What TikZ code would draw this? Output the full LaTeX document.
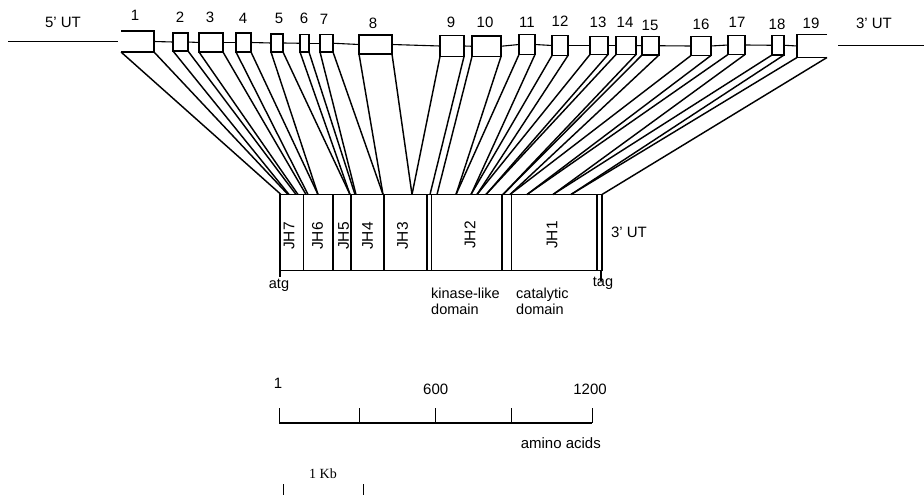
\documentclass[tikz,border=0pt]{standalone}
\usepackage{fontspec}
\setmainfont{Liberation Sans}
\newfontfamily\serifface{Liberation Serif}
\begin{document}
\begin{tikzpicture}[x=1pt,y=-1pt,
  exonbox/.style={draw,line width=1.2pt,fill=white},
  genel/.style={line width=1.1pt},
  link/.style={line width=1.45pt},
  boxl/.style={line width=1.1pt},
  numlbl/.style={font=\fontsize{15}{17}\selectfont,inner sep=0pt},
  txt/.style={font=\fontsize{14.5}{16}\selectfont,inner sep=0pt},
  bigtxt/.style={font=\fontsize{15}{17}\selectfont,inner sep=0pt},
  jh/.style={font=\fontsize{15.5}{17}\selectfont,inner sep=0pt,rotate=90}]
\useasboundingbox (0,0) rectangle (924,495);
% exons: n / left / right / top / bottom / label x / label y
\foreach \n/\l/\r/\t/\b/\lx/\ly in {
  1/121/154/31/52/135/15,
  2/173/188/33/51/180/17,
  3/199/223/33/52/210/17,
  4/236/251/33/52/243/18,
  5/271/283/34/52/279/18,
  6/300/309/34.5/52/304/18,
  7/320/333/34.5/52/324/19,
  8/359/392/35/54/373/23,
  9/440/464/35.5/56.5/451/22,
  10/472/501/36/56.5/485/22,
  11/519/535/34.5/54.5/527/22,
  12/552/568/35.5/55.5/560/21,
  13/590/608/36.5/54.5/598/22,
  14/616/636/36.5/54.5/625/22,
  15/642/659/36.5/55/650/25,
  16/691/711/36.5/55.5/701/24,
  17/728/745/35.5/54.5/737/22,
  18/772/784/35.5/55/777/24,
  19/797/827/34.5/57.5/811/23}{
  \coordinate (e\n tl) at (\l,\t);
  \coordinate (e\n tr) at (\r,\t);
  \coordinate (e\n bl) at (\l,\b);
  \coordinate (e\n br) at (\r,\b);
  \coordinate (e\n ml) at (\l,{(\t+\b)/2});
  \coordinate (e\n mr) at (\r,{(\t+\b)/2});
  \node[numlbl] (n\n) at (\lx,\ly) {\n};
}
% gene line
\coordinate (u5a) at (8,41.7);
\coordinate (u5b) at (118,41.7);
\coordinate (u3a) at (838,45.7);
\coordinate (u3b) at (924,45.7);
\draw[genel] (u5a) -- (u5b);
\draw[genel] (u3a) -- (u3b);
\foreach \a/\b in {1/2,2/3,3/4,4/5,5/6,6/7,7/8,8/9,9/10,10/11,11/12,12/13,13/14,14/15,15/16,16/17,17/18,18/19}{
  \draw[genel] (e\a mr) -- (e\b ml);
}
\foreach \n in {2,...,18}{
  \draw[exonbox] (e\n tl) rectangle (e\n br);
}
\draw[exonbox,fill=none] (e1tl) -- (e1tr) -- (e1br) -- (e1bl);
\draw[exonbox,fill=none] (e19tr) -- (e19tl) -- (e19bl) -- (e19br);
\node[bigtxt] (utr5) at (63,22) {5' UT};
\node[bigtxt] (utr3) at (874,23) {3' UT};
% protein targets
\foreach \n/\pl/\pr in {
  1/281/288, 2/289/296, 3/298/306, 4/308/318, 5/318/350,
  6/350/355, 7/356/383, 8/383/412, 9/412/430, 10/437/456,
  11/456/471, 12/471/477, 13/477/486, 14/486/503, 15/503/510,
  16/510/527, 17/527/553, 18/553/571, 19/571/602}{
  \coordinate (p\n l) at (\pl,194.5);
  \coordinate (p\n r) at (\pr,194.5);
  \draw[link] (e\n bl) -- (p\n l);
  \draw[link] (e\n br) -- (p\n r);
}
% protein box
\coordinate (bxa) at (280,194.5);
\coordinate (bxb) at (602,270.5);
\draw[boxl] (bxa) rectangle (bxb);
\foreach \x in {303.3,351,384,427,431.5,502,511.5,597}{
  \draw[boxl] (\x,194.5) -- (\x,270.5);
}
\draw[line width=2.4pt] (333,194.5) -- (333,270.5);
\node[jh] (jh7) at (289,236) {JH7};
\node[jh] (jh6) at (317.5,236) {JH6};
\node[jh] (jh5) at (343.5,236) {JH5};
\node[jh] (jh4) at (367.5,236) {JH4};
\node[jh] (jh3) at (402.5,236) {JH3};
\node[jh] (jh2) at (470,235) {JH2};
\node[jh] (jh1) at (552,235) {JH1};
\node[bigtxt] (utr3b) at (629,232) {3' UT};
% atg / tag
\coordinate (atga) at (280,270.5);
\coordinate (atgb) at (280,277);
\draw[boxl] (atga) -- (atgb);
\coordinate (taga) at (601,270.5);
\coordinate (tagb) at (601,281);
\draw[boxl] (taga) -- (tagb);
\node[txt,anchor=base] (atg) at (279,288) {atg};
\node[txt,anchor=base] (tag) at (603,286) {tag};
\node[txt,anchor=base west] (kin1) at (431,298) {kinase-like};
\node[txt,anchor=base west] (kin2) at (431,314) {domain};
\node[txt,anchor=base west] (cat1) at (516,298) {catalytic};
\node[txt,anchor=base west] (cat2) at (516,314) {domain};
% amino acid scale
\coordinate (s0) at (279.3,423);
\coordinate (s4) at (592.3,423);
\draw[boxl] (s0) -- (s4);
\foreach \x in {279.3,359.3,435.7,511.7,592.3}{
  \draw[boxl] (\x,408) -- (\x,423);
}
\node[bigtxt] (a1) at (278,383) {1};
\node[bigtxt] (a600) at (435.7,389) {600};
\node[bigtxt] (a1200) at (590,389) {1200};
\node[bigtxt,anchor=east] (aa) at (601,443) {amino acids};
% 1 Kb
\coordinate (k0a) at (283.5,484);
\coordinate (k0b) at (283.5,495);
\coordinate (k1a) at (363.5,484);
\coordinate (k1b) at (363.5,495);
\draw[boxl] (k0a) -- (k0b);
\draw[boxl] (k1a) -- (k1b);
\node[font=\serifface\fontsize{14}{16}\selectfont,inner sep=0pt] (kb) at (323,474) {1 Kb};
\end{tikzpicture}
\end{document}
